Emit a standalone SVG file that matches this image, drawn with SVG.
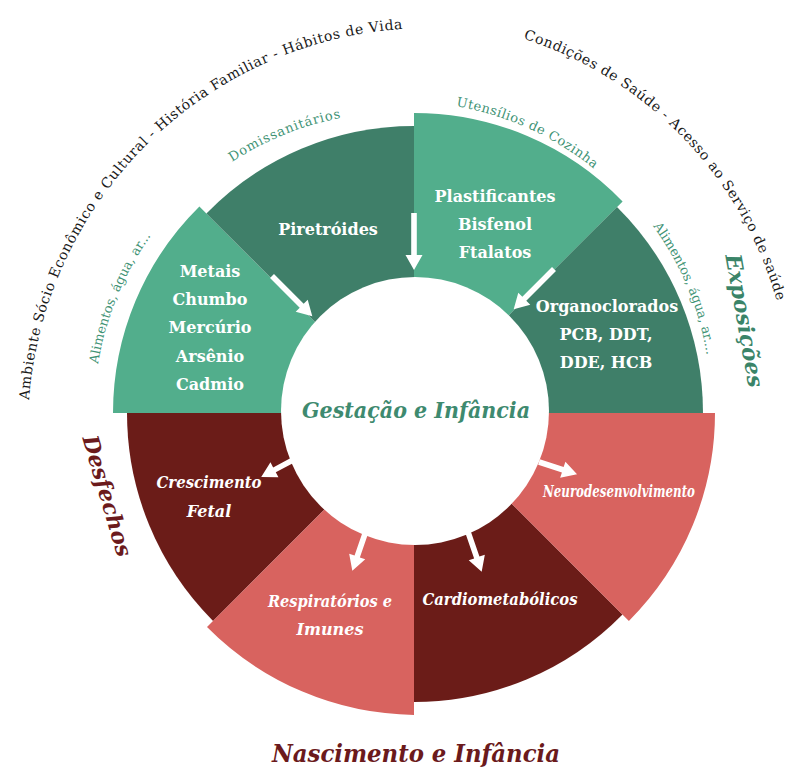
<svg xmlns="http://www.w3.org/2000/svg" width="794" height="776" viewBox="0 0 794 776">
<style>
.lg{fill:#52ae8c}.dg{fill:#3f7f69}.dr{fill:#6b1c18}.sa{fill:#d8635f}
.arrow{fill:#fff}
.lbl{font-family:"DejaVu Serif",serif;font-weight:bold;fill:#fff;font-size:16px;text-anchor:middle}
.it{font-style:italic}
.arc{font-family:"DejaVu Serif",serif;fill:#1a1a1a;font-size:14px}
.garc{font-family:"DejaVu Serif",serif;fill:#3f9375;font-size:13px}
.title{font-family:"DejaVu Serif",serif;font-weight:bold;font-style:italic;text-anchor:middle}
</style>
<defs>
<path id="pAmb" d="M 29,400 A 402 402 0 0 1 405.5,28.7"/>
<path id="pCond" d="M 523.3,38.6 A 385 385 0 0 1 777,302"/>
<path id="pDom" d="M 232,162 A 305 305 0 0 1 340,118"/>
<path id="pUt" d="M 456,106 A 305 305 0 0 1 593,168"/>
<path id="pAlL" d="M 98,364 A 310 310 0 0 1 152,234"/>
<path id="pAlR" d="M 653,226 A 300 300 0 0 1 707,357"/>
</defs>
<rect width="794" height="776" fill="#fff"/>
<g id="seg-metais"><path class="lg" d="M414,413 L113,413 A290,290 0 0 1 199.4,206.5 L410.5,417.5 Z"/></g>
<g id="seg-piretroides"><path class="dg" d="M410.5,417.5 L206.4,213.5 A290,290 0 0 1 414,126 L414,413 Z"/></g>
<g id="seg-plastificantes"><path class="lg" d="M414,413 L414,113 A290,290 0 0 1 622.6,201.5 L414,410 Z"/></g>
<g id="seg-organoclorados"><path class="dg" d="M414,410 L617,206.9 A290,290 0 0 1 703,413 L414,413 Z"/></g>
<g id="seg-crescimento"><path class="dr" d="M414,413 L127,413 A294,294 0 0 0 213.1,620.9 L417,417 Z"/></g>
<g id="seg-respiratorios"><path class="sa" d="M417,417 L207,627 A297,297 0 0 0 414,715 L414,413 Z"/></g>
<g id="seg-cardio"><path class="dr" d="M414,413 L414,702 A292,292 0 0 0 622.5,614.4 L421,413 Z"/></g>
<g id="seg-neuro"><path class="sa" d="M421,413 L628.9,620.9 A294,294 0 0 0 715,413 L414,413 Z"/></g>
<g id="center"><circle cx="415" cy="411" r="134" fill="#fff"/>
<text class="title" x="416" y="418" font-size="22" fill="#3e8a6f" textLength="228" lengthAdjust="spacingAndGlyphs">Gestação e Infância</text></g>
<g id="connectors">
<path class="arrow" transform="translate(272,276) rotate(45)" d="M0,-2.8 H42 V-8.5 L57,0 L42,8.5 V2.8 H0 Z"/>
<path class="arrow" transform="translate(414,213) rotate(90)" d="M0,-2.8 H42 V-8.5 L57,0 L42,8.5 V2.8 H0 Z"/>
<path class="arrow" transform="translate(554,269) rotate(135)" d="M0,-2.8 H42 V-8.5 L57,0 L42,8.5 V2.8 H0 Z"/>
<path class="arrow" transform="translate(293,460) rotate(152)" d="M0,-2.8 H21 V-8.5 L36,0 L21,8.5 V2.8 H0 Z"/>
<path class="arrow" transform="translate(366,531) rotate(109)" d="M0,-2.8 H27 V-8.5 L42,0 L27,8.5 V2.8 H0 Z"/>
<path class="arrow" transform="translate(468,532) rotate(71)" d="M0,-2.8 H27 V-8.5 L42,0 L27,8.5 V2.8 H0 Z"/>
<path class="arrow" transform="translate(539,462) rotate(18)" d="M0,-2.8 H25 V-8.5 L40,0 L25,8.5 V2.8 H0 Z"/>
</g>
<g id="labels-metais" class="lbl" font-size="15.5">
<text x="210" y="277">Metais</text>
<text x="210" y="305">Chumbo</text>
<text x="210" y="333">Mercúrio</text>
<text x="210" y="362">Arsênio</text>
<text x="210" y="390">Cadmio</text>
</g>
<g id="labels-piretroides" class="lbl" font-size="15.5"><text x="328" y="235">Piretróides</text></g>
<g id="labels-plastificantes" class="lbl" font-size="15.5">
<text x="495" y="202">Plastificantes</text>
<text x="495" y="230">Bisfenol</text>
<text x="495" y="258">Ftalatos</text>
</g>
<g id="labels-organoclorados" class="lbl" font-size="15.5">
<text x="607" y="312">Organoclorados</text>
<text x="606" y="340">PCB, DDT,</text>
<text x="606" y="368">DDE, HCB</text>
</g>
<g id="labels-crescimento" class="lbl it" font-size="15">
<text x="209" y="488" textLength="105" lengthAdjust="spacingAndGlyphs">Crescimento</text>
<text x="209" y="517">Fetal</text>
</g>
<g id="labels-respiratorios" class="lbl it" font-size="14.5">
<text x="330" y="607" textLength="124" lengthAdjust="spacingAndGlyphs">Respiratórios e</text>
<text x="330" y="635">Imunes</text>
</g>
<g id="labels-cardio" class="lbl it" font-size="14.5"><text x="500" y="605" textLength="155" lengthAdjust="spacingAndGlyphs">Cardiometabólicos</text></g>
<g id="labels-neuro" class="lbl it" font-size="11"><text x="619" y="497" textLength="152" lengthAdjust="spacingAndGlyphs">Neurodesenvolvimento</text></g>
<g id="outer-texts">
<text class="arc"><textPath href="#pAmb" textLength="574">Ambiente Sócio Econômico e Cultural - História Familiar - Hábitos de Vida</textPath></text>
<text class="arc"><textPath href="#pCond" textLength="380">Condições de Saúde - Acesso ao Serviço de saúde</textPath></text>
<text class="garc"><textPath href="#pDom" textLength="118">Domissanitários</textPath></text>
<text class="garc"><textPath href="#pUt" textLength="153">Utensílios de Cozinha</textPath></text>
<text class="garc" font-size="12"><textPath href="#pAlL" textLength="140">Alimentos, água, ar...</textPath></text>
<text class="garc" font-size="12"><textPath href="#pAlR" textLength="141">Alimentos, água, ar....</textPath></text>
<text class="title" font-size="22" fill="#3a8468" transform="translate(737,322) rotate(80)">Exposições</text>
<text class="title" font-size="22" fill="#6b1a1c" font-style="normal" transform="translate(100,498) rotate(73.5)">Desfechos</text>
<text class="title" x="416" y="762" font-size="24" fill="#6b1a1c" textLength="288" lengthAdjust="spacingAndGlyphs">Nascimento e Infância</text>
</g>
</svg>
